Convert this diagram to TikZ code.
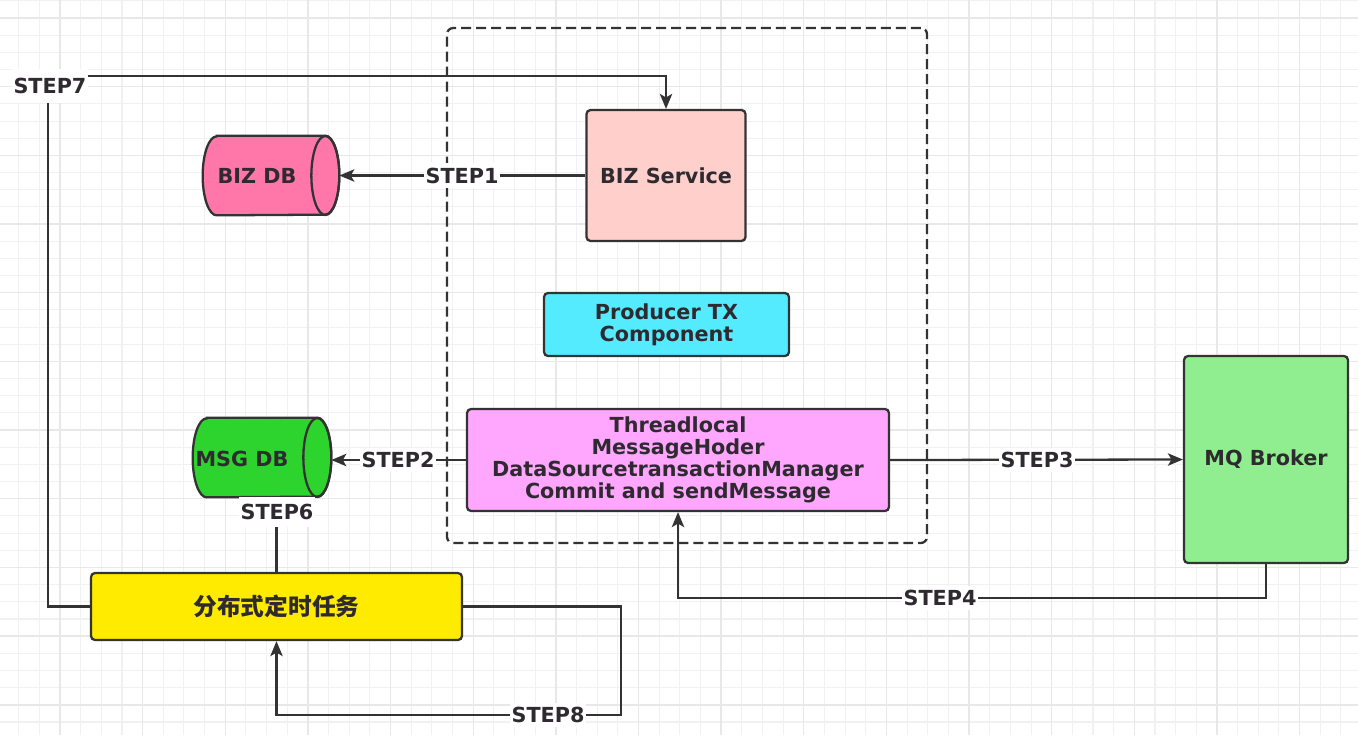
\documentclass[tikz,border=0pt]{standalone}
\usepackage{fontspec}
\setmainfont{DejaVu Sans}
\newfontfamily\cjk{Noto Sans CJK SC}
\usetikzlibrary{arrows.meta,calc}
\definecolor{linec}{HTML}{333333}
\definecolor{txtc}{HTML}{2E2A30}
\definecolor{gridminor}{HTML}{F1F1F1}
\definecolor{gridmajor}{HTML}{E8E8E8}
\definecolor{svcfill}{HTML}{FFCFCC}
\definecolor{bizdbfill}{HTML}{FF76A9}
\definecolor{prodfill}{HTML}{55EBFF}
\definecolor{tlfill}{HTML}{FFA6FF}
\definecolor{msgdbfill}{HTML}{2ED42E}
\definecolor{mqfill}{HTML}{90EE90}
\definecolor{taskfill}{HTML}{FFEB00}
\newcommand\mycyl[2]{%
  \path[draw=linec,line width=1.3pt,fill=#2]
    ($(#1.north west)+(0.28cm,0)$) -- ($(#1.north east)+(-0.28cm,0)$)
    arc[start angle=90,end angle=-90,x radius=0.28cm,y radius=0.79cm]
    -- ($(#1.south west)+(0.28cm,0)$)
    arc[start angle=270,end angle=90,x radius=0.28cm,y radius=0.79cm] -- cycle;
  \draw[linec,line width=1.3pt] ($(#1.east)+(-0.28cm,0)$) ellipse[x radius=0.28cm,y radius=0.79cm];}
\tikzset{
  txt/.style={font=\fontsize{11.8}{12.6}\selectfont\bfseries, text=txtc, align=center},
  box/.style={draw=linec, line width=1.3pt, rounded corners=0.08cm, txt, inner sep=0pt},
  cylbox/.style={inner sep=0pt},
  grouprect/.style={draw=linec, line width=1.3pt, dash pattern=on 0.2cm off 0.1cm, rounded corners=0.12cm},
  conn/.style={draw=linec, line width=1.3pt},
  arr/.style={conn, -{Stealth[length=8.5pt,width=7pt,inset=2pt]}},
  steplabel/.style={txt, fill=white, inner xsep=1pt, inner ysep=2.5pt},
}
\begin{document}
\begin{tikzpicture}[x=0.02cm,y=-0.02cm]
\useasboundingbox (0,0) rectangle (1358,735);
\fill[white] (0,0) rectangle (1358,735);
% grid
\foreach \i in {0,...,66} \draw[gridminor,line width=0.6pt] ({-1.98+20.66*\i},0) -- ++(0,735);
\foreach \j in {0,...,42} \draw[gridminor,line width=0.6pt] (0,{0.85+17.17*\j}) -- ++(1358,0);
\foreach \i in {0,...,16} \draw[gridmajor,line width=0.8pt] ({-22.64+82.64*\i},0) -- ++(0,735);
\foreach \j in {0,...,10} \draw[gridmajor,line width=0.8pt] (0,{18.02+68.68*\j}) -- ++(1358,0);

% group
\node[grouprect, minimum width=9.6cm, minimum height=10.3cm] (grp) at (687,285.5) {};

% nodes
\node[box, fill=svcfill, minimum width=3.18cm, minimum height=2.62cm] (bizsvc) at (666,175.5) {BIZ Service};
\node[box, fill=prodfill, minimum width=4.9cm, minimum height=1.26cm] (prod) at (666.5,324.5) {Producer TX\\Component};
\node[box, fill=tlfill, minimum width=8.44cm, minimum height=2.04cm] (tl) at (678,460) {Threadlocal\\MessageHoder\\DataSourcetransactionManager\\Commit and sendMessage};
\node[box, fill=mqfill, minimum width=3.28cm, minimum height=4.14cm] (mq) at (1266,459.5) {MQ Broker};
\node[box, fill=taskfill, minimum width=7.42cm, minimum height=1.34cm] (task) at (276.5,606.5) {\cjk\bfseries\fontsize{13.5}{14}\selectfont 分布式定时任务};

\node[cylbox, minimum width=2.72cm, minimum height=1.58cm] (bizdb) at (271,175.5) {};
\mycyl{bizdb}{bizdbfill}
\node[txt] (bizdbt) at (257,175.5) {BIZ DB};
\node[cylbox, minimum width=2.76cm, minimum height=1.58cm] (msgdb) at (262,457.5) {};
\mycyl{msgdb}{msgdbfill}
\node[txt] (msgdbt) at (242,459) {MSG DB};

% connectors
\coordinate (c7) at (48,76);
\draw[arr] (task.west) -| (c7) -| (bizsvc.north);
\node[steplabel, inner ysep=0.18cm] (s7) at (50,86) {STEP7};

\draw[arr] (bizsvc.west) -- (bizdb.east);
\node[steplabel] (s1) at (462,175.5) {STEP1};

\draw[arr] (tl.west) -- (tl.west -| msgdb.east);
\node[steplabel] (s2) at (398,460) {STEP2};

\draw[arr] (tl.east) -- (mq.west);
\node[steplabel] (s3) at (1037,460) {STEP3};

\coordinate (c4) at (1266,598);
\draw[arr] (mq.south) -- (c4) -| (tl.south);
\node[steplabel] (s4) at (940,598) {STEP4};

\draw[conn] (task.north) -- (task.north |- msgdb.south);
\node[steplabel, inner ysep=4pt] (s6) at (277,512) {STEP6};

\coordinate (c8) at (621,715);
\draw[arr] (task.east) -| (c8) -| (task.south);
\node[steplabel] (s8) at (548,715) {STEP8};
\end{tikzpicture}
\end{document}
